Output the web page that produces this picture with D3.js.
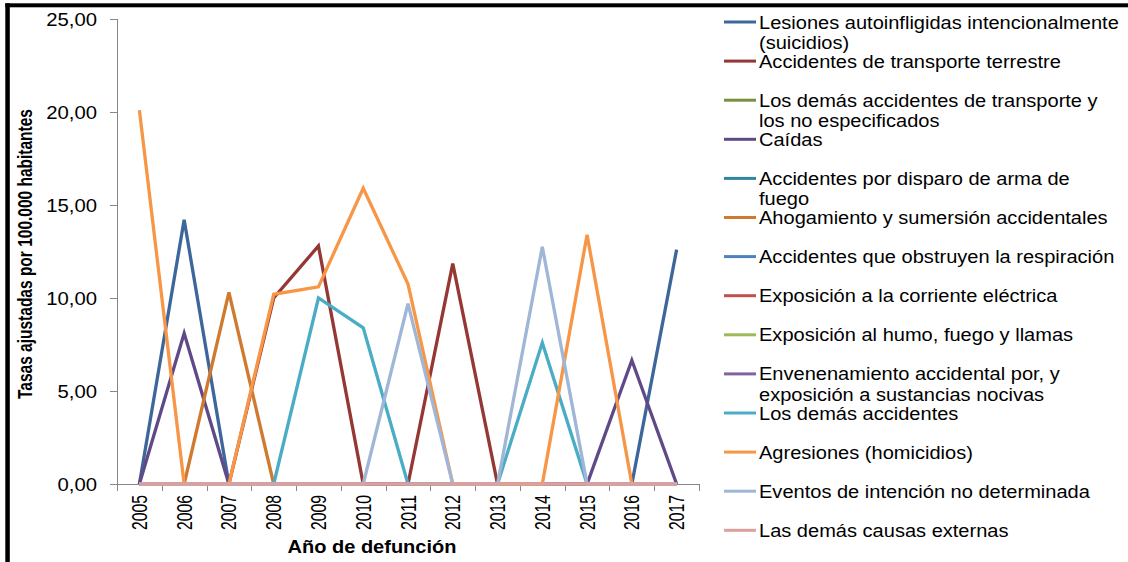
<!DOCTYPE html>
<html>
<head>
<meta charset="utf-8">
<script src="https://cdn.jsdelivr.net/npm/d3@7"></script>
<style>
  body { margin: 0; background: #fff; }
  svg text { font-family: "Liberation Sans", Arial, sans-serif; fill: #000; }
</style>
</head>
<body>
<svg id="chart" width="1128" height="562"></svg>
<script>
// years on the x axis
var years = ["2005", "2006", "2007", "2008", "2009", "2010", "2011", "2012", "2013", "2014", "2015", "2016", "2017"];
var yTicks = [0, 5, 10, 15, 20, 25];

// tasas ajustadas por serie
var suicidios     = [0, 14.2, 0, 0, 0, 0, 0, 0, 0, 0, 0, 0, 12.6];
var terrestre     = [0, 0, 0, 10.0, 12.8, 0, 0, 11.85, 0, 0, 0, 0, 0];
var otroTransp    = [0, 0, 0, 0, 0, 0, 0, 0, 0, 0, 0, 0, 0];
var caidas        = [0, 8.1, 0, 0, 0, 0, 0, 0, 0, 0, 0, 6.65, 0];
var disparo       = [0, 0, 0, 0, 0, 0, 0, 0, 0, 0, 0, 0, 0];
var ahogamiento   = [0, 0, 10.3, 0, 0, 0, 0, 0, 0, 0, 0, 0, 0];
var obstruyen     = [0, 0, 0, 0, 0, 0, 0, 0, 0, 0, 0, 0, 0];
var corriente     = [0, 0, 0, 0, 0, 0, 0, 0, 0, 0, 0, 0, 0];
var humo          = [0, 0, 0, 0, 0, 0, 0, 0, 0, 0, 0, 0, 0];
var envenenam     = [0, 0, 0, 0, 0, 0, 0, 0, 0, 0, 0, 0, 0];
var demasAcc      = [0, 0, 0, 0, 10.0, 8.4, 0, 0, 0, 7.6, 0, 0, 0];
var homicidios    = [20.1, 0, 0, 10.2, 10.6, 15.9, 10.75, 0, 0, 0, 13.4, 0, 0];
var noDeterminada = [0, 0, 0, 0, 0, 0, 9.7, 0, 0, 12.75, 0, 0, 0];
var demasCausas   = [0, 0, 0, 0, 0, 0, 0, 0, 0, 0, 0, 0, 0];

var seriesNames = [
  ["Lesiones autoinfligidas intencionalmente", "(suicidios)"],
  ["Accidentes de transporte terrestre"],
  ["Los demás accidentes de transporte y", "los no especificados"],
  ["Caídas"],
  ["Accidentes por disparo de arma de", "fuego"],
  ["Ahogamiento y sumersión accidentales"],
  ["Accidentes que obstruyen la respiración"],
  ["Exposición a la corriente eléctrica"],
  ["Exposición al humo, fuego y llamas"],
  ["Envenenamiento accidental por, y", "exposición a sustancias nocivas"],
  ["Los demás accidentes"],
  ["Agresiones (homicidios)"],
  ["Eventos de intención no determinada"],
  ["Las demás causas externas"]
];
var seriesValues = [suicidios, terrestre, otroTransp, caidas, disparo, ahogamiento, obstruyen,
  corriente, humo, envenenam, demasAcc, homicidios, noDeterminada, demasCausas];
var colors = ["#3d669a", "#953735", "#76923c", "#5f4a87", "#31859c", "#d07a30", "#4f81bd",
  "#c0504d", "#9bbb59", "#8064a2", "#4bacc6", "#f79646", "#9fb6d6", "#dca09e"];

var svg = d3.select("#chart");
var margin = {left: 117, top: 19, right: 429, bottom: 78};
var plotW = 1128 - margin.left - margin.right,
    plotH = 562 - margin.top - margin.bottom;

var x = d3.scaleBand().domain(years).range([margin.left, margin.left + plotW]);
var y = d3.scaleLinear().domain([0, 25]).range([margin.top + plotH, margin.top]);
var esFormat = d3.formatLocale({decimal: ",", thousands: ".", grouping: [3], currency: ["", ""]}).format(".2f");

// widen text a bit, the source picture is stretched horizontally
function stretch(sel, k) {
  sel.each(function() {
    var len = this.getComputedTextLength();
    d3.select(this).attr("textLength", len * k).attr("lengthAdjust", "spacingAndGlyphs");
  });
}

// frame (only left and top edges visible)
svg.append("rect").attr("x", 5.3).attr("y", 3.3).attr("width", 4.5).attr("height", 562).attr("fill", "#000");
svg.append("rect").attr("x", 5.3).attr("y", 3.3).attr("width", 1128).attr("height", 4).attr("fill", "#000");

// y axis
var yAxis = svg.append("g").attr("transform", "translate(" + margin.left + ",0)")
  .call(d3.axisLeft(y).tickValues(yTicks).tickFormat(esFormat).tickSize(7).tickPadding(13));
yAxis.select(".domain").attr("stroke", "#868686").attr("d", "M0.5," + y(25) + "V" + y(0));
yAxis.selectAll(".tick line").attr("stroke", "#868686");
yAxis.selectAll(".tick text").attr("font-size", "17.5px").attr("fill", "#000")
  .attr("font-family", "Liberation Sans, Arial, sans-serif").attr("dy", "0.35em").call(stretch, 1.16);

// x axis with ticks on category edges
var xg = svg.append("g").attr("transform", "translate(0," + y(0) + ")");
xg.append("line").attr("x1", margin.left).attr("x2", margin.left + plotW)
  .attr("y1", 0.5).attr("y2", 0.5).attr("stroke", "#868686");
var edges = years.map(function(d) { return x(d); }).concat([x(years[years.length - 1]) + x.bandwidth()]);
xg.selectAll(".edge").data(edges).enter().append("line")
  .attr("x1", function(d) { return Math.round(d) + 0.5; })
  .attr("x2", function(d) { return Math.round(d) + 0.5; })
  .attr("y1", 0).attr("y2", 7).attr("stroke", "#868686");
xg.selectAll(".yr").data(years).enter().append("text")
  .attr("transform", function(d) { return "translate(" + (x(d) + x.bandwidth() / 2 + 7.5) + ",11) rotate(-90)"; })
  .attr("text-anchor", "end")
  .attr("font-size", "21.5px")
  .attr("textLength", 35).attr("lengthAdjust", "spacingAndGlyphs")
  .text(function(d) { return d; });

// lines
var line = d3.line()
  .x(function(d, i) { return x(years[i]) + x.bandwidth() / 2; })
  .y(function(d) { return y(d); });
svg.append("g").selectAll("path").data(seriesValues).enter().append("path")
  .attr("d", line)
  .attr("fill", "none")
  .attr("stroke", function(d, i) { return colors[i]; })
  .attr("stroke-width", 3.3)
  .attr("stroke-linejoin", "miter");

// axis titles
svg.append("text")
  .attr("transform", "translate(32,254) rotate(-90)")
  .attr("text-anchor", "middle")
  .attr("font-size", "19.5px").attr("font-weight", "bold")
  .attr("textLength", 290).attr("lengthAdjust", "spacingAndGlyphs")
  .text("Tasas ajustadas por 100.000 habitantes");
svg.append("text")
  .attr("x", 372).attr("y", 553)
  .attr("text-anchor", "middle")
  .attr("font-size", "17.5px").attr("font-weight", "bold")
  .attr("textLength", 169).attr("lengthAdjust", "spacingAndGlyphs")
  .text("Año de defunción");

// legend
var legY0 = 22, legStep = 39.1;
var leg = svg.append("g").selectAll("g").data(seriesNames).enter().append("g")
  .attr("transform", function(d, i) { return "translate(724," + (legY0 + i * legStep) + ")"; });
leg.append("line").attr("x1", 0).attr("x2", 32).attr("y1", 0).attr("y2", 0)
  .attr("stroke", function(d, i) { return colors[i]; }).attr("stroke-width", 3);
leg.each(function(lines) {
  var g = d3.select(this);
  lines.forEach(function(t, j) {
    g.append("text").attr("x", 35).attr("y", 6.5 + j * 20.5)
      .attr("font-size", "17.5px").text(t).call(stretch, 1.145);
  });
});
</script>
</body>
</html>
